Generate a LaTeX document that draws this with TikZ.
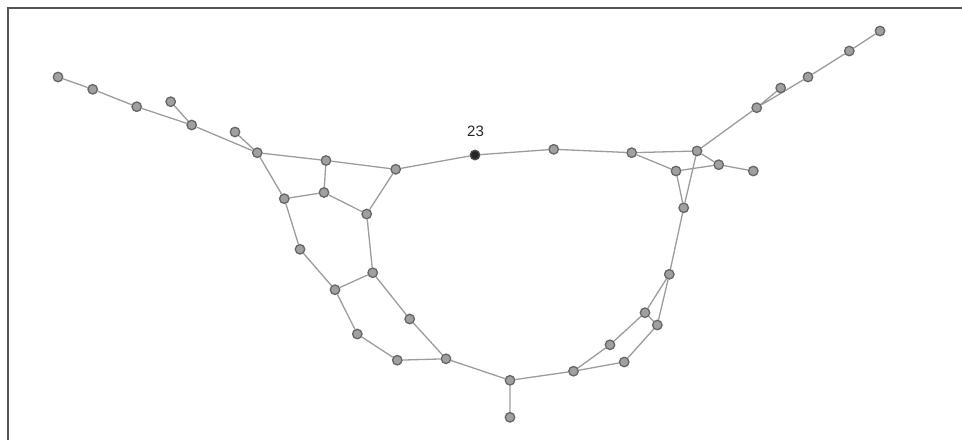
\documentclass[tikz,border=0pt]{standalone}
\usepackage{fontspec}
\setmainfont{Liberation Sans}
\usetikzlibrary{backgrounds}
\definecolor{edgec}{HTML}{9C9C9C}
\definecolor{nodefill}{HTML}{A0A0A0}
\definecolor{nodedraw}{HTML}{666666}
\definecolor{framec}{HTML}{555555}
\begin{document}
\begin{tikzpicture}[x=1pt,y=-1pt,
  vtx/.style={circle,fill=nodefill,draw=nodedraw,line width=1.3pt,inner sep=0pt,minimum size=9.5pt},
  blk/.style={circle,fill=black!85,draw=black!70,line width=1.3pt,inner sep=0pt,minimum size=9.5pt},
  edge/.style={draw=edgec,line width=1.3pt},
  lbl/.style={font=\fontsize{15}{17}\selectfont,text=black!85}]
\useasboundingbox (0,0) rectangle (962,440);
\draw[framec,line width=2pt] (7.5,440) -- (7.5,7.5) -- (962,7.5);
% left tail
\node[vtx] (a1) at (58,77) {};
\node[vtx] (a2) at (92.7,89.3) {};
\node[vtx] (a3) at (136.7,106.7) {};
\node[vtx] (a4) at (170.7,101.7) {};
\node[vtx] (a5) at (191.7,125) {};
\node[vtx] (a6) at (235,132) {};
\node[vtx] (h) at (257.3,152.7) {};
% left loop region
\node[vtx] (b1) at (326,160.5) {};
\node[vtx] (b2) at (324,192.5) {};
\node[vtx] (c1) at (284.3,198.7) {};
\node[vtx] (d) at (395.7,169.3) {};
\node[vtx] (e) at (366.7,214) {};
\node[vtx] (f) at (300,249.3) {};
\node[vtx] (g) at (372.7,272.7) {};
\node[vtx] (i) at (335,289.7) {};
\node[vtx] (j) at (409.7,319) {};
\node[vtx] (k) at (357.3,334) {};
\node[vtx] (l) at (397.3,360.2) {};
\node[vtx] (m) at (446,358.8) {};
% top
\node[blk] (n23) at (475,155) {};
\node[lbl] (t23) at (475.5,131) {23};
\node[vtx] (p1) at (553.7,149.3) {};
\node[vtx] (x) at (631.7,152.7) {};
% bottom
\node[vtx] (nb) at (510,380.3) {};
\node[vtx] (nl) at (510,417.3) {};
\node[vtx] (o) at (573.5,371.2) {};
\node[vtx] (p) at (610,344.8) {};
\node[vtx] (q) at (624.2,362) {};
\node[vtx] (t) at (645,312.7) {};
\node[vtx] (u) at (657.3,325) {};
\node[vtx] (s) at (669.3,274.3) {};
\node[vtx] (r) at (683.7,207.8) {};
% right cluster
\node[vtx] (w) at (697,151) {};
\node[vtx] (y) at (676,171) {};
\node[vtx] (z) at (718.7,164.7) {};
\node[vtx] (z2) at (753.3,171) {};
\node[vtx] (v5) at (756.7,107.7) {};
\node[vtx] (v4) at (780.7,88) {};
\node[vtx] (v3) at (808,77) {};
\node[vtx] (v2) at (849.3,51) {};
\node[vtx] (v1) at (880,31) {};
\begin{scope}[on background layer]
\path[edge] (a1) -- (a2) (a2) -- (a3) (a3) -- (a5) (a4) -- (a5) (a5) -- (h) (a6) -- (h)
  (h) -- (b1) (h) -- (c1) (b1) -- (b2) (c1) -- (b2) (b1) -- (d) (b2) -- (e) (d) -- (e)
  (e) -- (g) (c1) -- (f) (f) -- (i) (i) -- (g) (g) -- (j) (j) -- (m) (i) -- (k) (k) -- (l) (l) -- (m)
  (m) -- (nb) (nb) -- (nl) (nb) -- (o) (o) -- (p) (o) -- (q) (p) -- (t) (q) -- (u) (t) -- (u)
  (t) -- (s) (u) -- (s) (s) -- (r) (r) -- (w) (r) -- (y)
  (d) -- (n23) (n23) -- (p1) (p1) -- (x) (x) -- (w) (x) -- (y) (y) -- (z) (w) -- (z) (z) -- (z2)
  (w) -- (v5) (v5) -- (v4) (v5) -- (v3) (v3) -- (v2) (v2) -- (v1);
\end{scope}
\end{tikzpicture}
\end{document}
